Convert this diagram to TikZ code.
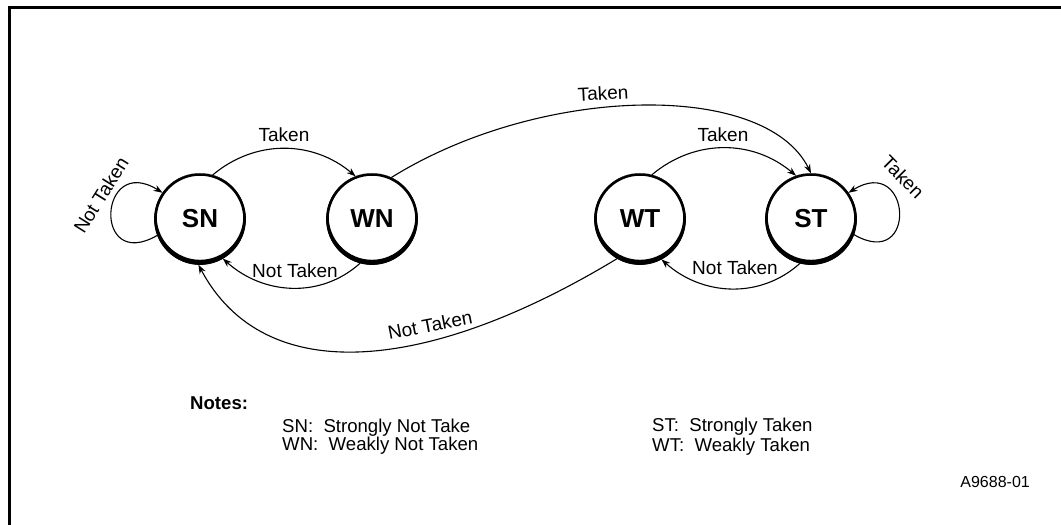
\documentclass[tikz,border=0pt]{standalone}
\usepackage{fontspec}
\setmainfont{Liberation Sans}
\usetikzlibrary{arrows.meta}

\begin{document}
\begin{tikzpicture}[x=1pt,y=1pt]
    \tikzstyle{every node}+=[inner sep=0pt]
    \tikzstyle{state}=[draw, circle, line width=2.5pt, minimum size=89pt, font=\fontsize{26}{26}\selectfont\bfseries]
    \tikzstyle{trans}=[line width=1.1pt, -{Stealth[length=9pt,width=6.5pt]}]
    \tikzstyle{lbl}=[font=\fontsize{19}{20}\selectfont]
    \useasboundingbox (0,0) rectangle (1061,525);
    \draw [line width=2.7pt] (9.7,0) -- (9.7,517.3) -- (1061,517.3);
    \node[state] (SN) at (200,306) {SN};
    \node[state] (WN) at (372,306) {WN};
    \node[state] (WT) at (640,306) {WT};
    \node[state] (ST) at (811,306) {ST};
    \foreach \s in {SN,WN,WT,ST}
        \fill[even odd rule] (\s.center) circle (45.9) ([yshift=2.55pt]\s.center) circle (43.35);
    \draw [trans] (SN.74) to[out=40,in=140] (WN.111);
    \node[lbl] (tSW) at (284,390) {Taken};
    \draw [trans] (WN.255) to[out=222,in=318] (SN.300);
    \node[lbl] (nWS) at (295,254) {Not Taken};
    \draw [trans] (WN.65) .. controls (540,440) and (765,445) .. (ST.90);
    \node[lbl, rotate=3] (tWS) at (603,432) {Taken};
    \draw [trans] (WT.75) to[out=40,in=140] (ST.109);
    \node[lbl] (tTS) at (723,390) {Taken};
    \draw [trans] (ST.256) to[out=222,in=318] (WT.298);
    \node[lbl] (nST) at (735,257) {Not Taken};
    \draw [trans] (WT.240) .. controls (430,153) and (265,135) .. (SN.268);
    \node[lbl, rotate=11] (nTS) at (430,200) {Not Taken};
    \draw [trans] (SN.201) to[out=210,in=148,looseness=4.5] (SN.145);
    \node[lbl, rotate=58] (nSS) at (101,330) {Not Taken};
    \draw [trans] (ST.-20) to[out=-30,in=32,looseness=4.5] (ST.35);
    \node[lbl, rotate=-45] (tSS) at (903,348) {Taken};
    \node[lbl, font=\fontsize{18.6}{20}\selectfont\bfseries, anchor=base west] (notes) at (190,115) {Notes:};
    \node[lbl, font=\fontsize{18.6}{20}\selectfont, anchor=base west] (dSN) at (282,92) {SN:\ \ Strongly Not Take};
    \node[lbl, font=\fontsize{18.6}{20}\selectfont, anchor=base west] (dWN) at (282,74) {WN:\ \ Weakly Not Taken};
    \node[lbl, font=\fontsize{18.6}{20}\selectfont, anchor=base west] (dST) at (652,93) {ST:\ \ Strongly Taken};
    \node[lbl, font=\fontsize{18.6}{20}\selectfont, anchor=base west] (dWT) at (652,73) {WT:\ \ Weakly Taken};
    \node[lbl, font=\fontsize{16}{18}\selectfont, anchor=base east] (fig) at (1030,37) {A9688-01};
\end{tikzpicture}
\end{document}
